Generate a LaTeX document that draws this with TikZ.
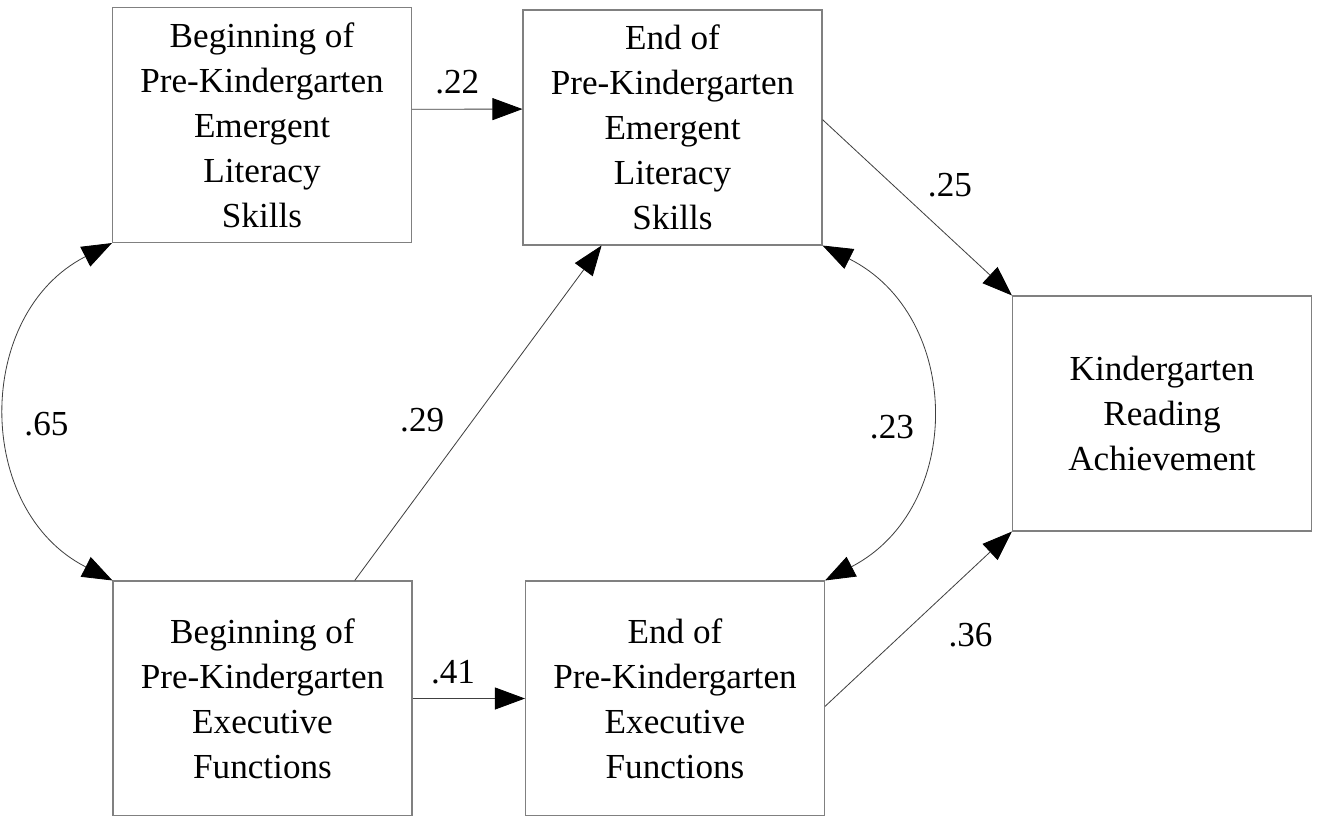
\documentclass[tikz,border=0pt]{standalone}
\usepackage{fontspec}
\setmainfont{Liberation Serif}
\usepackage{tikz}
\usetikzlibrary{arrows.meta}
\tikzset{
    box/.style={
        draw=black!50,
        line width=0.9pt,
        minimum width=8.97cm,
        minimum height=7.05cm,
        inner sep=0pt,
        align=center,
        font=\fontsize{30}{38.4}\selectfont
    },
    >={Triangle[length=0.9cm,width=0.66cm,black]},
    every edge/.style={
        draw=black!75,
        ->,
        line width=0.7pt
    },
    lbl/.style={inner sep=0pt, font=\fontsize{30}{36}\selectfont}
}

\begin{document}
\begin{tikzpicture}[x=0.03cm,y=-0.03cm]
	\useasboundingbox (0,0) rectangle (1319,816);
	\node[box] at (262,125) (litB) {Beginning of\\Pre-Kindergarten\\Emergent\\Literacy\\Skills};
	\node[box] at (672.5,127.5) (litE) {End of\\Pre-Kindergarten\\Emergent\\Literacy\\Skills};
	\node[box] at (1162,413.5) (read) {Kindergarten\\Reading\\Achievement};
	\node[box] at (262.5,698.5) (efB) {Beginning of\\Pre-Kindergarten\\Executive\\Functions};
	\node[box] at (675,698.5) (efE) {End of\\Pre-Kindergarten\\Executive\\Functions};
	\draw
	(litB.6.5) edge node[lbl,pos=.41,yshift=0.81cm] {.22} (litE.173.3)
	(litE.3.6) edge node[lbl,pos=.5,xshift=0.98cm,yshift=0.66cm] {.25} (read.north west)
	(efB.east) edge node[lbl,pos=.36,yshift=0.78cm] {.41} (efE.west)
	(efE.-3.6) edge node[lbl,pos=.5,xshift=1.56cm,yshift=-0.47cm] {.36} (read.south west)
	(efB.52.7) edge node[lbl,pos=.48,xshift=-1.53cm] {.29} (litE.239.8)
	(litB.south west) edge[<->,bend right=63,looseness=1.18] node[lbl,xshift=1.14cm,yshift=-0.36cm] {.65} (efB.north west)
	(litE.south east) edge[<->,bend left=63,looseness=1.2] node[lbl,xshift=-1.11cm,yshift=-0.45cm] {.23} (efE.north east);
\end{tikzpicture}
\end{document}
